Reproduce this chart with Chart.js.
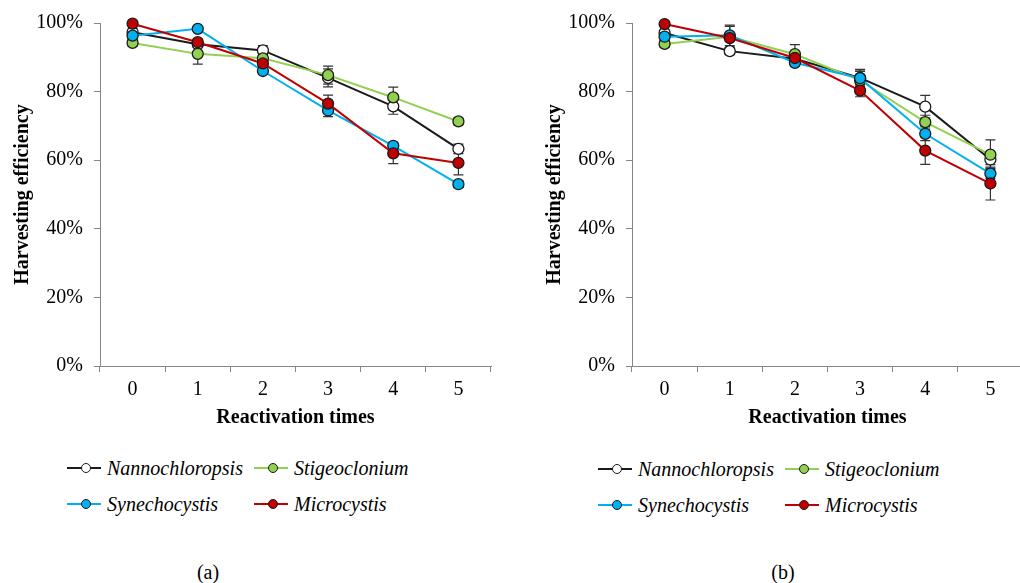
<!DOCTYPE html>
<html>
<head>
<meta charset="utf-8">
<script src="https://cdn.jsdelivr.net/npm/chart.js@4"></script>
<style>
body { margin: 0; width: 1020px; height: 583px; overflow: hidden; background: #fff; position: relative; font-family: 'Liberation Serif', 'Times New Roman', serif; color: #000; }
.panel { position: absolute; top: 0; width: 500px; height: 440px; }
.legend { position: absolute; font-family: 'Liberation Serif'; font-style: italic; font-size: 20px; }
.item { position: absolute; display: flex; align-items: center; white-space: nowrap; height: 24px; line-height: 24px; }
.item svg { margin-right: 6px; }
.cap { position: absolute; font-family: 'Liberation Serif'; font-size: 20px; transform: translate(-50%, -50%); }
</style>
</head>
<body>
<div class="panel" style="left:0"><canvas id="chartA" width="500" height="440"></canvas></div>
<div class="panel" style="left:532px"><canvas id="chartB" width="500" height="440"></canvas></div>
<div class="legend" id="legendA" style="left:67px;top:456px"></div>
<div class="legend" id="legendB" style="left:598px;top:457px"></div>
<div class="cap" style="left:208px;top:572px">(a)</div>
<div class="cap" style="left:783px;top:572px">(b)</div>
<script>
const categories = ['0', '1', '2', '3', '4', '5'];
const seriesNames = ['Nannochloropsis', 'Stigeoclonium', 'Synechocystis', 'Microcystis'];
const yTicks = [0, 20, 40, 60, 80, 100];

// panel (a)
const nannoA = [97.3, 93.8, 92.0, 84.0, 75.7, 63.3];
const stigeoA = [94.2, 91.0, 89.7, 84.8, 78.3, 71.3];
const synechoA = [96.3, 98.3, 86.0, 74.5, 64.2, 53.0];
const microA = [99.8, 94.4, 88.2, 76.5, 62.0, 59.2];
const nannoErrA = [1.0, 1.0, 1.4, 2.6, 2.3, 1.4];
const stigeoErrA = [1.0, 3.0, 1.0, 2.6, 3.0, 1.0];
const synechoErrA = [1.0, 0.5, 1.0, 1.8, 1.0, 1.0];
const microErrA = [0.5, 1.0, 1.0, 2.5, 3.0, 3.5];

// panel (b)
const nannoB = [97.1, 91.8, 89.6, 84.0, 75.6, 60.2];
const stigeoB = [93.9, 96.0, 90.9, 83.3, 71.1, 61.6];
const synechoB = [96.0, 96.4, 88.4, 83.9, 67.7, 56.1];
const microB = [99.7, 95.6, 89.8, 80.3, 62.8, 53.2];
const nannoErrB = [1.0, 1.0, 1.0, 2.5, 3.3, 1.5];
const stigeoErrB = [1.0, 3.0, 2.8, 3.0, 2.0, 4.3];
const synechoErrB = [1.0, 3.0, 1.0, 2.0, 2.0, 1.5];
const microErrB = [0.5, 1.0, 1.0, 1.8, 4.0, 4.8];

const lineColors = ['#1a1a1a', '#92d050', '#00b0f0', '#c00000'];
const fillColors = ['#ffffff', '#92d050', '#00b0f0', '#c00000'];
const axisColor = '#868686';
const serif = "'Liberation Serif', 'Times New Roman', serif";

// draws the +/- error whiskers under the lines
const errorBars = {
    id: 'errorBars',
    beforeDatasetsDraw(chart) {
        const ctx = chart.ctx;
        const y = chart.scales.y;
        ctx.save();
        ctx.strokeStyle = '#333';
        ctx.lineWidth = 1.2;
        chart.data.datasets.forEach((ds, i) => {
            const meta = chart.getDatasetMeta(i);
            meta.data.forEach((pt, j) => {
                const e = ds.errors[j];
                const top = y.getPixelForValue(ds.data[j] + e);
                const bot = y.getPixelForValue(ds.data[j] - e);
                ctx.beginPath();
                ctx.moveTo(pt.x, top); ctx.lineTo(pt.x, bot);
                ctx.moveTo(pt.x - 5, top); ctx.lineTo(pt.x + 5, top);
                ctx.moveTo(pt.x - 5, bot); ctx.lineTo(pt.x + 5, bot);
                ctx.stroke();
            });
        });
        ctx.restore();
    }
};

function makeChart(id, values, errors) {
    const datasets = values.map((vals, i) => ({
        label: seriesNames[i],
        data: vals,
        errors: errors[i],
        borderColor: lineColors[i],
        borderWidth: 2,
        pointRadius: 5.5,
        pointBackgroundColor: fillColors[i],
        pointBorderColor: '#1a1a1a',
        pointBorderWidth: 1.3,
        order: 4 - i,
        clip: false
    }));
    return new Chart(document.getElementById(id), {
        type: 'line',
        data: { labels: categories, datasets },
        options: {
            responsive: false,
            animation: false,
            layout: { padding: { left: 0, top: 20, right: 9, bottom: 0 } },
            plugins: { legend: { display: false }, tooltip: { enabled: false } },
            scales: {
                x: {
                    offset: true,
                    grid: { display: true, drawOnChartArea: false, offset: true, tickLength: 6, color: axisColor },
                    border: { display: true, color: axisColor },
                    ticks: { color: '#000', font: { family: serif, size: 20 }, padding: 6 },
                    title: { display: true, text: 'Reactivation times', color: '#000', font: { family: serif, size: 20, weight: 'bold' }, padding: { top: 0, bottom: 10 } },
                    afterFit(scale) { scale.height = 74; }
                },
                y: {
                    min: 0,
                    max: 100,
                    afterBuildTicks(scale) { scale.ticks = yTicks.map(v => ({ value: v })); },
                    grid: { display: true, drawOnChartArea: false, tickLength: 6, color: axisColor },
                    border: { display: true, color: axisColor },
                    ticks: { color: '#000', font: { family: serif, size: 20 }, padding: 11, callback: v => v + '%' },
                    title: { display: true, text: 'Harvesting efficiency', color: '#000', font: { family: serif, size: 20, weight: 'bold' }, padding: { top: 11, bottom: 0 } },
                    afterFit(scale) { scale.width = 100; }
                }
            }
        },
        plugins: [errorBars]
    });
}

function makeLegend(id) {
    const box = document.getElementById(id);
    seriesNames.forEach((name, i) => {
        const item = document.createElement('div');
        item.className = 'item';
        item.style.left = (i % 2) * 187 + 'px';
        item.style.top = Math.floor(i / 2) * 36 + 'px';
        item.innerHTML = '<svg width="34" height="12"><line x1="0" y1="6" x2="34" y2="6" stroke="' + lineColors[i] +
            '" stroke-width="2"/><circle cx="19" cy="6" r="4.5" fill="' + fillColors[i] +
            '" stroke="#1a1a1a" stroke-width="1"/></svg><span>' + name + '</span>';
        box.appendChild(item);
    });
}

makeChart('chartA', [nannoA, stigeoA, synechoA, microA], [nannoErrA, stigeoErrA, synechoErrA, microErrA]);
makeChart('chartB', [nannoB, stigeoB, synechoB, microB], [nannoErrB, stigeoErrB, synechoErrB, microErrB]);
makeLegend('legendA');
makeLegend('legendB');
</script>
</body>
</html>
